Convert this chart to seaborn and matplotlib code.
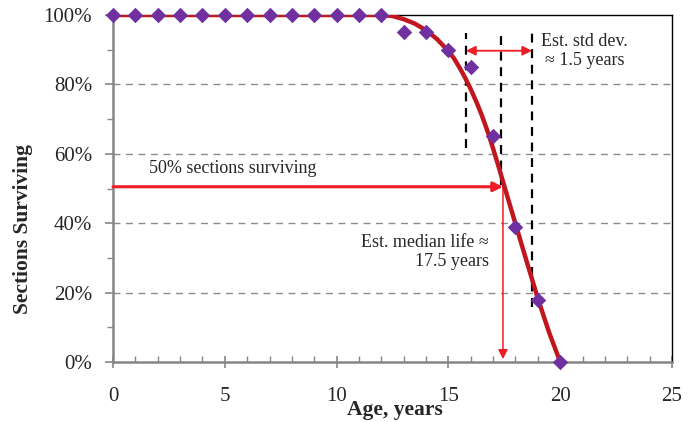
import matplotlib
matplotlib.use("Agg")
import matplotlib.pyplot as plt
import seaborn as sns
import pandas as pd
from matplotlib.ticker import MultipleLocator, FuncFormatter

# observed data
ages = [0, 1, 2, 3, 4, 5, 6, 7, 8, 9, 10, 11, 12, 13, 14, 15, 16, 17, 18, 19, 20]
surviving = [100, 100, 100, 100, 100, 100, 100, 100, 100, 100, 100, 100, 100,
             95, 95, 90, 85, 65, 39, 18, 0]

# fitted curve
fit_age = [0, 12, 12.5, 13, 13.5, 14, 14.5, 15, 15.25, 15.5, 15.75, 16,
           16.25, 16.5, 16.75, 17, 17.25, 17.5, 18, 18.5, 19, 19.5, 20]
fit_surv = [100, 100, 99.7, 98.8, 97.5, 95.6, 93.0, 89.6, 87.5, 84.8, 81.9, 78.6,
            75.0, 71.0, 66.5, 61.5, 56.2, 50.7, 39.8, 29.0, 18.3, 8.6, 0]

median_life = 17.44
median_level = 50.5
std_lines = [15.79, 17.35, 18.74]
std_bottoms = [61.7, 51.0, 15.8]
std_top = 94.8
std_arrow_y = 89.7

x_ticks = [0, 5, 10, 15, 20, 25]
y_ticks = [0, 20, 40, 60, 80, 100]

sns.set_style("white")
plt.rcParams['font.family'] = ['Liberation Serif', 'DejaVu Serif']

W, H = 694, 422
fig = plt.figure(figsize=(W / 100, H / 100), dpi=100)
ax = fig.add_axes([113 / W, (H - 362) / H, 559 / W, 347 / H])

df_pts = pd.DataFrame({"age": ages, "surv": surviving})
df_fit = pd.DataFrame({"age": fit_age, "surv": fit_surv})

grid_color = "#8c8c8c"
for yv in [20, 40, 60, 80]:
    ax.axhline(yv, color=grid_color, lw=1.0, ls=(0, (5, 4)), zorder=1)

# dashed std lines
for xv, yb in zip(std_lines, std_bottoms):
    ax.plot([xv, xv], [yb, std_top], color="black", lw=1.6, ls=(0, (4, 3)), zorder=2)

red = "#ee1c24"
# horizontal arrow
ax.annotate("", xy=(median_life, median_level), xytext=(0, median_level),
            arrowprops=dict(arrowstyle="-|>", color=red, lw=2.2,
                            mutation_scale=14, shrinkA=0, shrinkB=0), zorder=3)
# vertical arrow
ax.annotate("", xy=(median_life, 0.8), xytext=(median_life, median_level),
            arrowprops=dict(arrowstyle="-|>", color=red, lw=1.1,
                            mutation_scale=14, shrinkA=0, shrinkB=0), zorder=3)
# std double arrow
ax.annotate("", xy=(std_lines[0], std_arrow_y), xytext=(std_lines[2], std_arrow_y),
            arrowprops=dict(arrowstyle="<|-|>", color=red, lw=1.3,
                            mutation_scale=14, shrinkA=0, shrinkB=0), zorder=3)

sns.lineplot(data=df_fit, x="age", y="surv", ax=ax, color="#c0171f", lw=3.2,
             zorder=4, sort=False)
sns.scatterplot(data=df_pts, x="age", y="surv", ax=ax, marker="D", s=62,
                color="#7030a0", edgecolor="#7030a0", linewidth=0, zorder=5,
                clip_on=False)

ax.text(5.37, 55.9, "50% sections surviving", fontsize=13, ha="center", va="center")
ax.text(16.82, 31.7, "Est. median life \u2248\n17.5 years", fontsize=13,
        ha="right", va="center", linespacing=1.15, multialignment="right")
ax.text(21.1, 89.5, "Est. std dev.\n\u2248 1.5 years", fontsize=13,
        ha="center", va="center", linespacing=1.15, multialignment="center")

ax.set_xlim(0, 25)
ax.set_ylim(0, 100)
ax.set_xticks(x_ticks)
ax.set_yticks(y_ticks)
ax.xaxis.set_minor_locator(MultipleLocator(1))
ax.yaxis.set_minor_locator(MultipleLocator(10))
ax.yaxis.set_major_formatter(FuncFormatter(lambda v, p: f"{int(v)}%"))
ax.set_xlabel("")
ax.set_ylabel("")

axis_gray = "#868686"
ax.tick_params(axis="x", which="major", direction="inout", length=8, width=1.2,
               color=axis_gray, labelsize=15, pad=14, bottom=True)
ax.tick_params(axis="x", which="minor", direction="in", length=4, width=1.0,
               color=axis_gray, bottom=True)
ax.tick_params(axis="y", which="major", direction="out", length=6, width=1.2,
               color=axis_gray, labelsize=15, pad=9, left=True)
ax.tick_params(axis="y", which="minor", direction="out", length=4, width=1.0,
               color=axis_gray, left=True)

for side in ["left", "bottom"]:
    ax.spines[side].set_color(axis_gray)
    ax.spines[side].set_linewidth(1.8)
for side in ["top", "right"]:
    ax.spines[side].set_color("black")
    ax.spines[side].set_linewidth(1.0)
    ax.spines[side].set_visible(True)

fig.text(395 / W, 1 - 410 / H, "Age, years", fontsize=15.5, fontweight="bold",
         ha="center", va="center")
fig.text(23 / W, 1 - 229 / H, "Sections Surviving", fontsize=15.5, fontweight="bold",
         ha="center", va="center", rotation=90)

fig.savefig("out.png", dpi=100)
